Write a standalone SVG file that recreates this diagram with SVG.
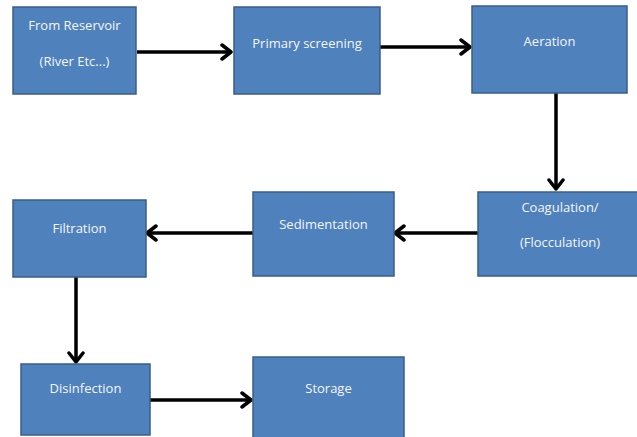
<svg xmlns="http://www.w3.org/2000/svg" width="637" height="437" viewBox="0 0 637 437">
<style>
.box{fill:#4F81BD;stroke:#385D8A;stroke-width:1.5}
.t{font-family:"Open Sans","Liberation Sans",sans-serif;font-size:13px;fill:#F4F6FA;text-anchor:middle;dominant-baseline:central}
.c{fill:none;stroke:#000;stroke-width:3.5}
</style>
<defs>
<marker id="ah" viewBox="0 0 14 18" refX="12" refY="9" markerWidth="14" markerHeight="18" markerUnits="userSpaceOnUse" orient="auto">
<path d="M3,2 L12,9 L3,16" fill="none" stroke="#000" stroke-width="3.5" stroke-linecap="round" stroke-linejoin="round"/>
</marker>
</defs>
<rect width="637" height="437" fill="#FFFFFF"/>
<g id="connectors">
<line class="c" x1="137" y1="52" x2="231" y2="52" marker-end="url(#ah)"/>
<line class="c" x1="380" y1="47" x2="470" y2="47" marker-end="url(#ah)"/>
<line class="c" x1="556" y1="93" x2="556" y2="189" marker-end="url(#ah)"/>
<line class="c" x1="478" y1="233" x2="395" y2="233" marker-end="url(#ah)"/>
<line class="c" x1="253" y1="233" x2="147" y2="233" marker-end="url(#ah)"/>
<line class="c" x1="76" y1="277" x2="76" y2="362" marker-end="url(#ah)"/>
<line class="c" x1="150" y1="400" x2="251" y2="400" marker-end="url(#ah)"/>
</g>
<g id="reservoir">
<rect class="box" x="13" y="7" width="123" height="87"/>
<text class="t" x="74.5" y="25">From Reservoir</text>
<text class="t" x="74.5" y="61">(River Etc...)</text>
</g>
<g id="screening">
<rect class="box" x="234" y="7" width="146" height="87"/>
<text class="t" x="307" y="43">Primary screening</text>
</g>
<g id="aeration">
<rect class="box" x="472" y="6" width="155" height="87"/>
<text class="t" x="549.5" y="41">Aeration</text>
</g>
<g id="coagulation">
<rect class="box" x="478" y="192" width="161" height="84"/>
<text class="t" x="560" y="207">Coagulation/</text>
<text class="t" x="560" y="242">(Flocculation)</text>
</g>
<g id="sedimentation">
<rect class="box" x="253" y="192" width="141" height="84"/>
<text class="t" x="323.5" y="224">Sedimentation</text>
</g>
<g id="filtration">
<rect class="box" x="13" y="200" width="133" height="77"/>
<text class="t" x="79.5" y="228">Filtration</text>
</g>
<g id="disinfection">
<rect class="box" x="21" y="364" width="129" height="71"/>
<text class="t" x="85.5" y="388">Disinfection</text>
</g>
<g id="storage">
<rect class="box" x="253" y="357" width="151" height="82"/>
<text class="t" x="328.5" y="388">Storage</text>
</g>
</svg>
